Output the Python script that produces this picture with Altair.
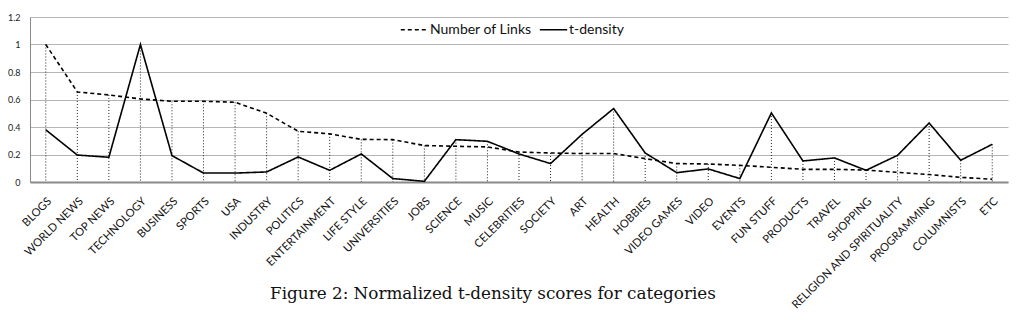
import altair as alt
import pandas as pd

categories = ["BLOGS", "WORLD NEWS", "TOP NEWS", "TECHNOLOGY", "BUSINESS", "SPORTS", "USA",
              "INDUSTRY", "POLITICS", "ENTERTAINMENT", "LIFE STYLE", "UNIVERSITIES", "JOBS",
              "SCIENCE", "MUSIC", "CELEBRITIES", "SOCIETY", "ART", "HEALTH", "HOBBIES",
              "VIDEO GAMES", "VIDEO", "EVENTS", "FUN STUFF", "PRODUCTS", "TRAVEL", "SHOPPING",
              "RELIGION AND SPIRITUALITY", "PROGRAMMING", "COLUMNISTS", "ETC"]
links = [1.0, 0.655, 0.633, 0.604, 0.587, 0.587, 0.58, 0.50, 0.369, 0.35, 0.31, 0.308, 0.265,
         0.26, 0.255, 0.218, 0.211, 0.207, 0.207, 0.17, 0.134, 0.131, 0.121, 0.107, 0.092,
         0.092, 0.087, 0.07, 0.054, 0.034, 0.02]
tdensity = [0.38, 0.196, 0.18, 1.0, 0.192, 0.065, 0.065, 0.073, 0.182, 0.085, 0.204, 0.025,
            0.005, 0.308, 0.296, 0.204, 0.134, 0.347, 0.534, 0.211, 0.068, 0.095, 0.025,
            0.502, 0.153, 0.175, 0.085, 0.194, 0.429, 0.158, 0.274]
series_names = ["Number of Links", "t-density"]
y_ticks = [0, 0.2, 0.4, 0.6, 0.8, 1.0, 1.2]
caption = "Figure 2: Normalized t-density scores for categories"

wide = pd.DataFrame({"category": categories, "links": links, "tdensity": tdensity})
wide["top"] = wide[["links", "tdensity"]].max(axis=1)
long = pd.concat([
    pd.DataFrame({"category": categories, "value": links, "series": series_names[0]}),
    pd.DataFrame({"category": categories, "value": tdensity, "series": series_names[1]}),
])

W, H = 978, 165
font = "Lato"

x_axis = alt.Axis(labelAngle=-45, labelFont=font, labelFontSize=11.2,
                  labelColor="#111", labelPadding=13, ticks=False,
                  domainColor="#8a8a8a", domainWidth=2, labelOverlap=False,
                  labelBound=False)
y_axis = alt.Axis(values=y_ticks, format="~g", labelFont=font, labelFontSize=9,
                  labelColor="#222", ticks=False, domainColor="#8a8a8a",
                  gridColor="#b5b5b5", gridWidth=1, labelPadding=10,
                  labelOverlap=False)
y_scale = alt.Scale(domain=[0, 1.2], nice=False)
x_enc = alt.X("category:N", sort=categories, title=None, axis=x_axis)

grid = alt.Chart(wide).mark_rule(strokeDash=[1, 2], color="#222", strokeWidth=1).encode(
    x=x_enc,
    y=alt.Y("top:Q", scale=y_scale, title=None, axis=y_axis),
    y2=alt.Y2(datum=0),
)

lines = alt.Chart(long).mark_line(color="black", strokeWidth=1.6).encode(
    x=x_enc,
    y=alt.Y("value:Q", scale=y_scale, title=None, axis=y_axis),
    strokeDash=alt.StrokeDash(
        "series:N",
        scale=alt.Scale(domain=series_names, range=[[4, 3], [1, 0]]),
        legend=alt.Legend(title=None, orient="none", legendX=370, legendY=-2,
                          direction="horizontal", symbolType="stroke", symbolSize=750,
                          symbolStrokeWidth=1.5, symbolStrokeColor="black",
                          labelFont=font, labelFontSize=14, labelColor="#111",
                          labelOffset=1, columnPadding=4),
    ),
)

cap = alt.Chart(pd.DataFrame({"t": [caption]})).mark_text(
    font="DejaVu Serif", fontSize=16.8, color="#111", baseline="alphabetic", align="center"
).encode(x=alt.value(463), y=alt.value(282), text="t:N")

chart = alt.layer(grid, lines, cap).properties(
    width=W, height=H,
    padding={"left": 30, "top": 17, "right": 11, "bottom": 142},
    autosize=alt.AutoSizeParams(type="none"),
    background="white",
).configure_view(stroke=None)

chart.save("out.html", embed_options={"renderer": "svg", "actions": False})
